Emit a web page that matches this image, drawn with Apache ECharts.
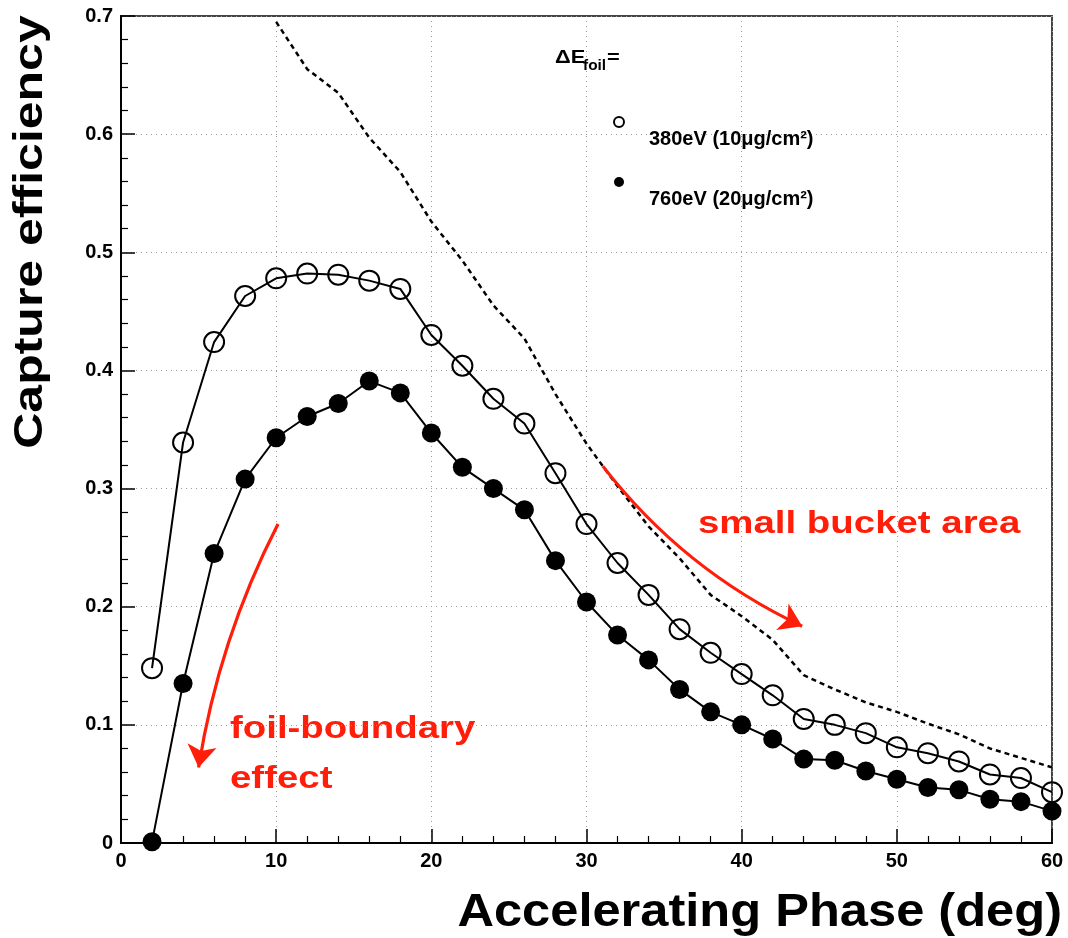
<!DOCTYPE html>
<html>
<head>
<meta charset="utf-8">
<script src="https://cdn.jsdelivr.net/npm/echarts@6/dist/echarts.min.js"></script>
<style>
html,body{margin:0;padding:0;background:#fff;}
#chart{width:1068px;height:938px;}
</style>
</head>
<body>
<div id="chart"></div>
<script>
// ---- data ----
const phase = [2,4,6,8,10,12,14,16,18,20,22,24,26,28,30,32,34,36,38,40,42,44,46,48,50,52,54,56,58,60];
const eff380 = [0.148,0.339,0.424,0.463,0.478,0.482,0.481,0.476,0.469,0.430,0.404,0.376,0.355,0.313,0.270,0.237,0.210,0.181,0.161,0.143,0.125,0.105,0.100,0.093,0.081,0.076,0.069,0.058,0.055,0.043];
const eff760 = [0.001,0.135,0.245,0.308,0.343,0.361,0.372,0.391,0.381,0.347,0.318,0.300,0.282,0.239,0.204,0.176,0.155,0.130,0.111,0.100,0.088,0.071,0.070,0.061,0.054,0.047,0.045,0.037,0.035,0.027];
const limitPhase = [10,12,14,16,18,20,22,24,26,28,30,32,34,36,38,40,42,44,46,48,50,52,54,56,58,60];
const limitEff = [0.695,0.655,0.635,0.597,0.568,0.526,0.493,0.455,0.427,0.380,0.338,0.302,0.268,0.241,0.210,0.192,0.172,0.142,0.130,0.119,0.111,0.101,0.092,0.080,0.072,0.064];
const seriesNames = ['380eV (10\u03bcg/cm\u00b2)', '760eV (20\u03bcg/cm\u00b2)'];
const arrowBucket = [[31.05, 0.319], [43.9, 0.1835]];
const arrowFoil = [[10.12, 0.270], [5.0, 0.0640]];
const xTitle = 'Accelerating Phase (deg)';
const yTitle = 'Capture efficiency';

const pairs = (xs, ys) => xs.map((x, i) => [x, ys[i]]);
const FONT = '"Liberation Sans", Arial, Helvetica, sans-serif';
const RED = '#ff1e0a';

const chart = echarts.init(document.getElementById('chart'), null, {renderer: 'canvas'});

const axisCommon = {
  axisLine: {show: true, onZero: false, lineStyle: {color: '#000', width: 2}},
  axisTick: {show: true, inside: true, length: 14, lineStyle: {color: '#000', width: 1.5}},
  minorTick: {show: true, splitNumber: 5, length: 7, lineStyle: {color: '#000', width: 1.2}},
  splitLine: {show: true, lineStyle: {color: '#9a9a9a', width: 1, type: [1, 4]}},
  minorSplitLine: {show: false},
  axisLabel: {color: '#000', fontSize: 20, fontWeight: 'bold', fontFamily: FONT, margin: 8}
};

const option = {
  backgroundColor: '#fff',
  animation: false,
  grid: {left: 121, right: 16, top: 16, bottom: 95, show: true, borderColor: '#444', borderWidth: 2, containLabel: false, outerBoundsMode: 'none'},
  xAxis: Object.assign({type: 'value', min: 0, max: 60, interval: 10}, axisCommon),
  yAxis: Object.assign({type: 'value', min: 0, max: 0.7, interval: 0.1}, axisCommon, {
    axisLabel: Object.assign({}, axisCommon.axisLabel, {formatter: v => (v === 0 ? '0' : v.toFixed(1))})
  }),
  legend: {
    orient: 'vertical',
    left: 613,
    top: 95,
    padding: 0,
    itemGap: 6,
    itemWidth: 10,
    itemHeight: 10,
    icon: 'circle',
    selectedMode: false,
    formatter: '{t|{name}}',
    textStyle: {
      color: '#000',
      rich: {t: {fontSize: 20, fontWeight: 'bold', fontFamily: FONT, color: '#000', lineHeight: 20, padding: [34, 0, 0, 20]}}
    },
    data: [
      {name: seriesNames[0], icon: 'circle', itemStyle: {color: '#fff', borderColor: '#000', borderWidth: 2}},
      {name: seriesNames[1], icon: 'circle', itemStyle: {color: '#000', borderWidth: 0}}
    ]
  },
  series: [
    {
      name: 'limit',
      type: 'line',
      data: pairs(limitPhase, limitEff),
      showSymbol: false,
      symbol: 'none',
      lineStyle: {color: '#000', width: 2.5, type: [5, 4]},
      silent: true,
      z: 2
    },
    {
      name: seriesNames[0],
      type: 'line',
      data: pairs(phase, eff380),
      symbol: 'circle',
      symbolSize: 20,
      lineStyle: {color: '#000', width: 2},
      itemStyle: {color: 'rgba(255,255,255,0)', borderColor: '#000', borderWidth: 2},
      z: 3
    },
    {
      name: seriesNames[1],
      type: 'line',
      data: pairs(phase, eff760),
      symbol: 'circle',
      symbolSize: 19,
      lineStyle: {color: '#000', width: 2},
      itemStyle: {color: '#000', borderWidth: 0},
      z: 3
    },
    {
      name: 'arrows',
      type: 'lines',
      coordinateSystem: 'cartesian2d',
      symbol: ['none', 'arrow'],
      symbolSize: 22,
      silent: true,
      z: 4,
      lineStyle: {color: RED, width: 3.2, opacity: 1},
      data: [
        {coords: arrowBucket, lineStyle: {curveness: -0.12}},
        {coords: arrowFoil, lineStyle: {curveness: -0.08}}
      ]
    }
  ],
  graphic: [
    {type: 'text', x: 31, y: 232, rotation: Math.PI / 2, scaleX: 1.25, silent: true,
      style: {text: yTitle, fontSize: 40, fontWeight: 'bold', fontFamily: FONT, fill: '#000', align: 'center', verticalAlign: 'middle'}},
    {type: 'text', x: 1062, y: 913, scaleX: 1.1, silent: true,
      style: {text: xTitle, fontSize: 46, fontWeight: 'bold', fontFamily: FONT, fill: '#000', align: 'right', verticalAlign: 'middle'}},
    {type: 'text', x: 698, y: 524, scaleX: 1.2, silent: true,
      style: {text: 'small bucket area', fontSize: 32, fontWeight: 'bold', fontFamily: FONT, fill: RED, align: 'left', verticalAlign: 'middle'}},
    {type: 'text', x: 230, y: 729, scaleX: 1.2, silent: true,
      style: {text: 'foil-boundary', fontSize: 32, fontWeight: 'bold', fontFamily: FONT, fill: RED, align: 'left', verticalAlign: 'middle'}},
    {type: 'text', x: 230, y: 779, scaleX: 1.2, silent: true,
      style: {text: 'effect', fontSize: 32, fontWeight: 'bold', fontFamily: FONT, fill: RED, align: 'left', verticalAlign: 'middle'}},
    {type: 'text', x: 555, y: 58, scaleX: 1.15, silent: true,
      style: {text: '\u0394E', fontSize: 19, fontWeight: 'bold', fontFamily: FONT, fill: '#000', align: 'left', verticalAlign: 'middle'}},
    {type: 'text', x: 583, y: 66, scaleX: 1.1, silent: true,
      style: {text: 'foil', fontSize: 14, fontWeight: 'bold', fontFamily: FONT, fill: '#000', align: 'left', verticalAlign: 'middle'}},
    {type: 'text', x: 607, y: 58, scaleX: 1.15, silent: true,
      style: {text: '=', fontSize: 19, fontWeight: 'bold', fontFamily: FONT, fill: '#000', align: 'left', verticalAlign: 'middle'}}
  ]
};
chart.setOption(option);
</script>
</body>
</html>
